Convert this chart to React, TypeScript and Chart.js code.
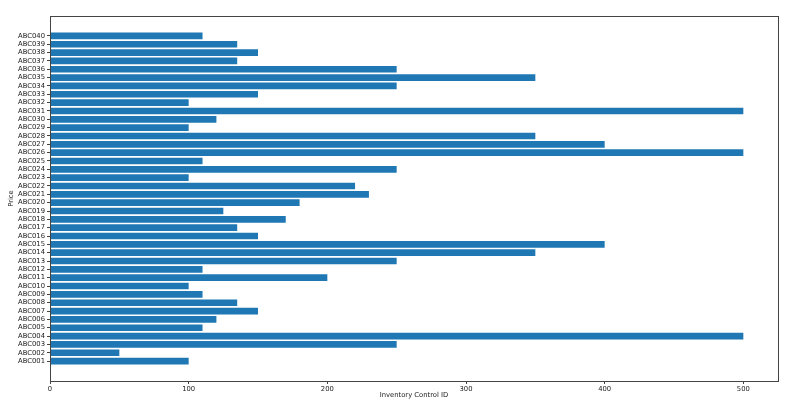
import React, { useEffect, useRef } from "react";
import { Chart, registerables } from "chart.js";

Chart.register(...registerables);

const categories: string[] = [
  "ABC001", "ABC002", "ABC003", "ABC004", "ABC005", "ABC006", "ABC007", "ABC008", "ABC009", "ABC010",
  "ABC011", "ABC012", "ABC013", "ABC014", "ABC015", "ABC016", "ABC017", "ABC018", "ABC019", "ABC020",
  "ABC021", "ABC022", "ABC023", "ABC024", "ABC025", "ABC026", "ABC027", "ABC028", "ABC029", "ABC030",
  "ABC031", "ABC032", "ABC033", "ABC034", "ABC035", "ABC036", "ABC037", "ABC038", "ABC039", "ABC040",
];

const prices: number[] = [
  100, 50, 250, 500, 110, 120, 150, 135, 110, 100,
  200, 110, 250, 350, 400, 150, 135, 170, 125, 180,
  230, 220, 100, 250, 110, 500, 400, 350, 100, 120,
  500, 100, 150, 250, 350, 250, 135, 150, 135, 110,
];

const xTicks: number[] = [0, 100, 200, 300, 400, 500];
const xMax = 525;
const xTitle = "Inventory Control ID";
const yTitle = "Price";

const FONT = "'DejaVu Sans', sans-serif";
const TEXT = "#1a1a1a";
const SIZE = 6.8;

const boxPlugin = {
  id: "box",
  afterDraw(chart: any) {
    const { ctx, chartArea } = chart;
    ctx.save();
    ctx.strokeStyle = "#444";
    ctx.lineWidth = 1;
    ctx.strokeRect(
      Math.round(chartArea.left) + 0.5,
      Math.round(chartArea.top) + 0.5,
      Math.round(chartArea.right - chartArea.left),
      Math.round(chartArea.bottom - chartArea.top)
    );
    ctx.restore();
  },
};

export default function App() {
  const ref = useRef<HTMLCanvasElement | null>(null);

  useEffect(() => {
    document.body.style.margin = "0";
    if (!ref.current) return;
    const n = categories.length;
    const pad = (n - 1 + 0.8) * 0.05 + 0.4;
    const chart = new Chart(ref.current, {
      type: "bar",
      data: {
        datasets: [
          {
            data: prices.map((v, i) => ({ x: v, y: i })),
            backgroundColor: "#1f77b4",
            borderWidth: 0,
            categoryPercentage: 1,
            barPercentage: 0.8,
          },
        ],
      },
      options: {
        indexAxis: "y",
        animation: false,
        responsive: false,
        maintainAspectRatio: false,
        layout: { padding: { top: 16, right: 28, left: 0, bottom: 0 } },
        plugins: { legend: { display: false }, tooltip: { enabled: false } },
        scales: {
          x: {
            type: "linear",
            min: 0,
            max: xMax,
            offset: false,
            afterBuildTicks: (scale: any) => {
              scale.ticks = xTicks.map((v) => ({ value: v }));
            },
            afterFit: (scale: any) => {
              scale.height = 25;
            },
            grid: {
              offset: false,
              drawOnChartArea: false,
              drawTicks: true,
              tickLength: 3,
              tickColor: "#444",
            },
            border: { display: false },
            ticks: {
              font: { family: FONT, size: SIZE },
              color: TEXT,
              padding: 1,
              maxRotation: 0,
              callback: (v: any) => String(v),
            },
            title: {
              display: true,
              text: xTitle,
              font: { family: FONT, size: SIZE },
              color: TEXT,
              padding: { top: 1, bottom: 7 },
            },
          },
          y: {
            type: "linear",
            min: -pad,
            max: n - 1 + pad,
            offset: false,
            afterBuildTicks: (scale: any) => {
              scale.ticks = categories.map((_, i) => ({ value: i }));
            },
            afterFit: (scale: any) => {
              scale.width = 50;
            },
            grid: {
              offset: false,
              drawOnChartArea: false,
              drawTicks: true,
              tickLength: 3,
              tickColor: "#444",
            },
            border: { display: false },
            ticks: {
              font: { family: FONT, size: SIZE },
              color: TEXT,
              padding: 2,
              autoSkip: false,
              callback: (v: any) => categories[Math.round(Number(v))] ?? "",
            },
            title: {
              display: true,
              text: yTitle,
              font: { family: FONT, size: SIZE },
              color: TEXT,
              padding: { top: 7, bottom: 0 },
            },
          },
        },
      },
      plugins: [boxPlugin],
    });
    return () => chart.destroy();
  }, []);

  return (
    <div style={{ position: "fixed", left: 0, top: 0, width: 806, height: 406, background: "#fff" }}>
      <canvas ref={ref} width={806} height={406} style={{ width: 806, height: 406 }} />
    </div>
  );
}
